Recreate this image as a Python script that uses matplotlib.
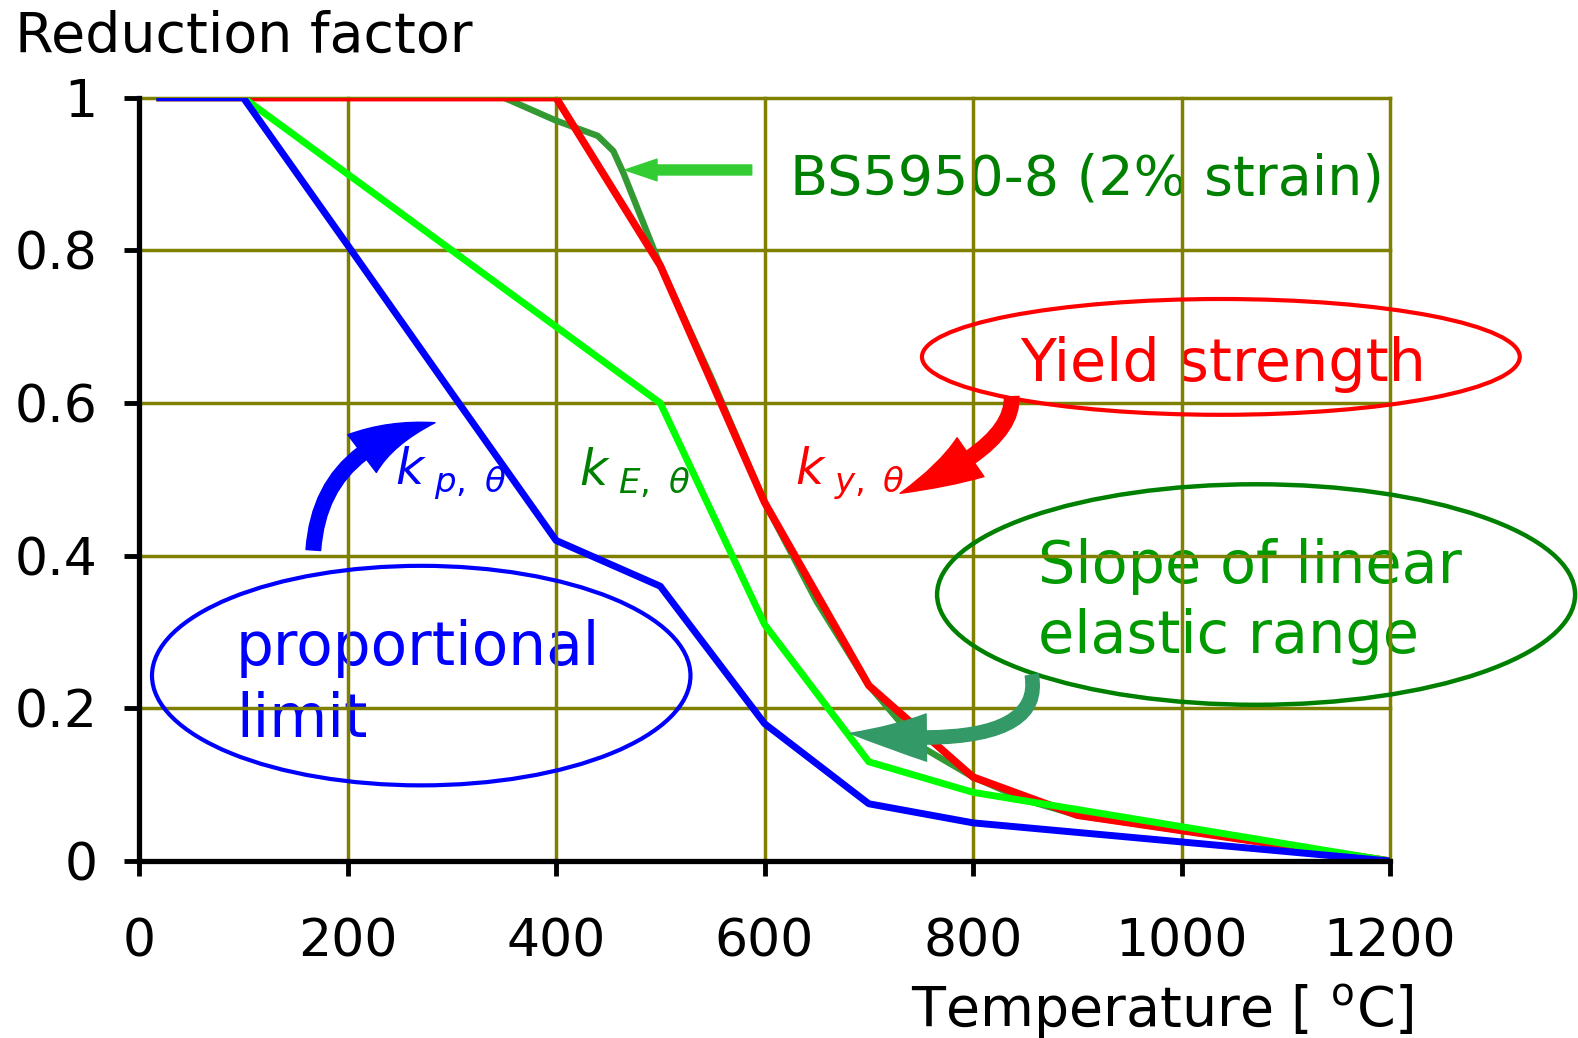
import matplotlib
matplotlib.use('Agg')
import matplotlib.pyplot as plt
from matplotlib.patches import Ellipse, FancyArrowPatch
from matplotlib.ticker import FuncFormatter

plt.rcParams['font.family'] = ['DejaVu Sans']
plt.rcParams['mathtext.fontset'] = 'dejavusans'

# EN 1993-1-2 reduction factors (carbon steel) + BS5950-8 2% strain
temp_ky = [20, 100, 200, 300, 400, 500, 600, 700, 800, 900, 1000, 1100, 1200]
k_y = [1.0, 1.0, 1.0, 1.0, 1.0, 0.78, 0.47, 0.23, 0.11, 0.06, 0.04, 0.02, 0.0]

temp_kp = [20, 100, 200, 300, 400, 500, 600, 700, 800, 900, 1000, 1100, 1200]
k_p = [1.0, 1.0, 0.807, 0.613, 0.42, 0.36, 0.18, 0.075, 0.05, 0.0375, 0.025, 0.0125, 0.0]

temp_kE = [20, 100, 200, 300, 400, 500, 600, 700, 800, 900, 1000, 1100, 1200]
k_E = [1.0, 1.0, 0.9, 0.8, 0.7, 0.6, 0.31, 0.13, 0.09, 0.0675, 0.045, 0.0225, 0.0]

temp_bs = [20, 350, 400, 440, 455, 465, 500, 550, 600, 650, 700, 750, 800, 850, 900, 1000, 1100, 1200]
k_bs = [1.0, 1.0, 0.97, 0.95, 0.93, 0.90, 0.78, 0.63, 0.47, 0.34, 0.23, 0.15, 0.11, 0.08, 0.06, 0.04, 0.02, 0.0]

x_ticks = [0, 200, 400, 600, 800, 1000, 1200]
y_ticks = [0, 0.2, 0.4, 0.6, 0.8, 1.0]

OLIVE = '#808000'

fig = plt.figure(figsize=(15.78, 10.38), dpi=100)
ax = fig.add_axes([0.0881, 0.1705, 0.7928, 0.7354])

ax.plot(temp_bs, k_bs, color='#339933', lw=4.6, zorder=2.0, solid_joinstyle='round')
ax.plot(temp_ky, k_y, color='#ff0000', lw=5.4, zorder=2.1)
ax.plot(temp_kE, k_E, color='#00ff00', lw=5.0, zorder=2.2)
ax.plot(temp_kp, k_p, color='#0000ff', lw=5.0, zorder=2.3)

ax.set_xlim(0, 1200)
ax.set_ylim(0, 1)
ax.set_xticks(x_ticks)
ax.set_yticks(y_ticks)
ax.yaxis.set_major_formatter(FuncFormatter(lambda v, p: '%g' % v))
ax.tick_params(axis='both', direction='out', length=11, width=3.5, labelsize=37.5, color='black')
ax.tick_params(axis='x', pad=30)
ax.tick_params(axis='y', pad=19)

ax.set_axisbelow(True)
ax.grid(True, color=OLIVE, lw=2.5)
for gl in ax.get_xgridlines() + ax.get_ygridlines():
    gl.set_clip_on(False)

for s in ['top', 'right']:
    ax.spines[s].set_visible(False)
for s in ['left', 'bottom']:
    ax.spines[s].set_linewidth(3.8)
    ax.spines[s].set_zorder(3)

fig.text(0.0095, 0.9502, 'Reduction factor', fontsize=40, ha='left', va='baseline')
fig.text(0.896, 0.0106, r'Temperature [ $^{\mathrm{o}}$C]', fontsize=40, ha='right', va='baseline')

# ellipses
ax.add_patch(Ellipse((1037.7, 0.6604), 573.4, 0.1517, fill=False, ec='#ff0000', lw=3.0,
                     clip_on=False, zorder=2.6))
ax.add_patch(Ellipse((270.7, 0.2429), 516.5, 0.2876, fill=False, ec='#0000ff', lw=3.0,
                     clip_on=False, zorder=2.6))
ax.add_patch(Ellipse((1071.5, 0.3491), 612.0, 0.2889, fill=False, ec='#008000', lw=3.2,
                     clip_on=False, zorder=2.6))

# texts (grid shows through them in the original)
ax.text(1039.5, 0.6294, 'Yield strength', color='#ff0000', fontsize=42.3, ha='center',
        va='baseline', zorder=0.4)
ax.text(624, 0.873, 'BS5950-8 (2% strain)', color='#008000', fontsize=40, ha='left',
        va='baseline', zorder=0.4, clip_on=False)
ax.text(862, 0.3638, 'Slope of linear', color='#009900', fontsize=42.4, ha='left',
        va='baseline', zorder=0.4, clip_on=False)
ax.text(862, 0.2721, 'elastic range', color='#009900', fontsize=42.4, ha='left',
        va='baseline', zorder=0.4, clip_on=False)
ax.text(93, 0.2568, 'proportional', color='#0000ff', fontsize=43, ha='left',
        va='baseline', zorder=0.4)
ax.text(93, 0.162, 'limit', color='#0000ff', fontsize=43, ha='left',
        va='baseline', zorder=0.4)

ax.text(246, 0.4926, r'$k_{\ p,\ \theta}$', color='#0000ff', fontsize=35, ha='left', va='baseline')
ax.text(422, 0.4926, r'$k_{\ E,\ \theta}$', color='#008000', fontsize=35, ha='left', va='baseline')
ax.text(629, 0.4926, r'$k_{\ y,\ \theta}$', color='#ff0000', fontsize=35, ha='left', va='baseline')

# arrows
big = 'simple,head_length=57,head_width=34,tail_width=10.5'
ax.add_patch(FancyArrowPatch((837.1, 0.6083), (730.0, 0.4817), arrowstyle=big,
                             connectionstyle='angle3,angleA=92,angleB=22',
                             color='#ff0000', mutation_scale=1, shrinkA=0, shrinkB=0,
                             zorder=4, clip_on=False))
ax.add_patch(FancyArrowPatch((167.2, 0.4074), (283.9, 0.5742), arrowstyle=big,
                             connectionstyle='angle3,angleA=86,angleB=12',
                             color='#0000ff', mutation_scale=1, shrinkA=0, shrinkB=0,
                             zorder=4, clip_on=False))
ax.add_patch(FancyArrowPatch((856.3, 0.2437), (682.0, 0.1673),
                             arrowstyle='simple,head_length=55,head_width=34,tail_width=9.5',
                             connectionstyle='angle3,angleA=100,angleB=-6',
                             color='#339966', mutation_scale=1, shrinkA=0, shrinkB=0,
                             zorder=4, clip_on=False))
ax.add_patch(FancyArrowPatch((587.7, 0.9053), (466.2, 0.9053),
                             arrowstyle='simple,head_length=23,head_width=15.6,tail_width=7.2',
                             color='#33cc33', mutation_scale=1, shrinkA=0, shrinkB=0,
                             zorder=4, clip_on=False, capstyle='round', joinstyle='round'))

fig.savefig('out.png', dpi=100)
